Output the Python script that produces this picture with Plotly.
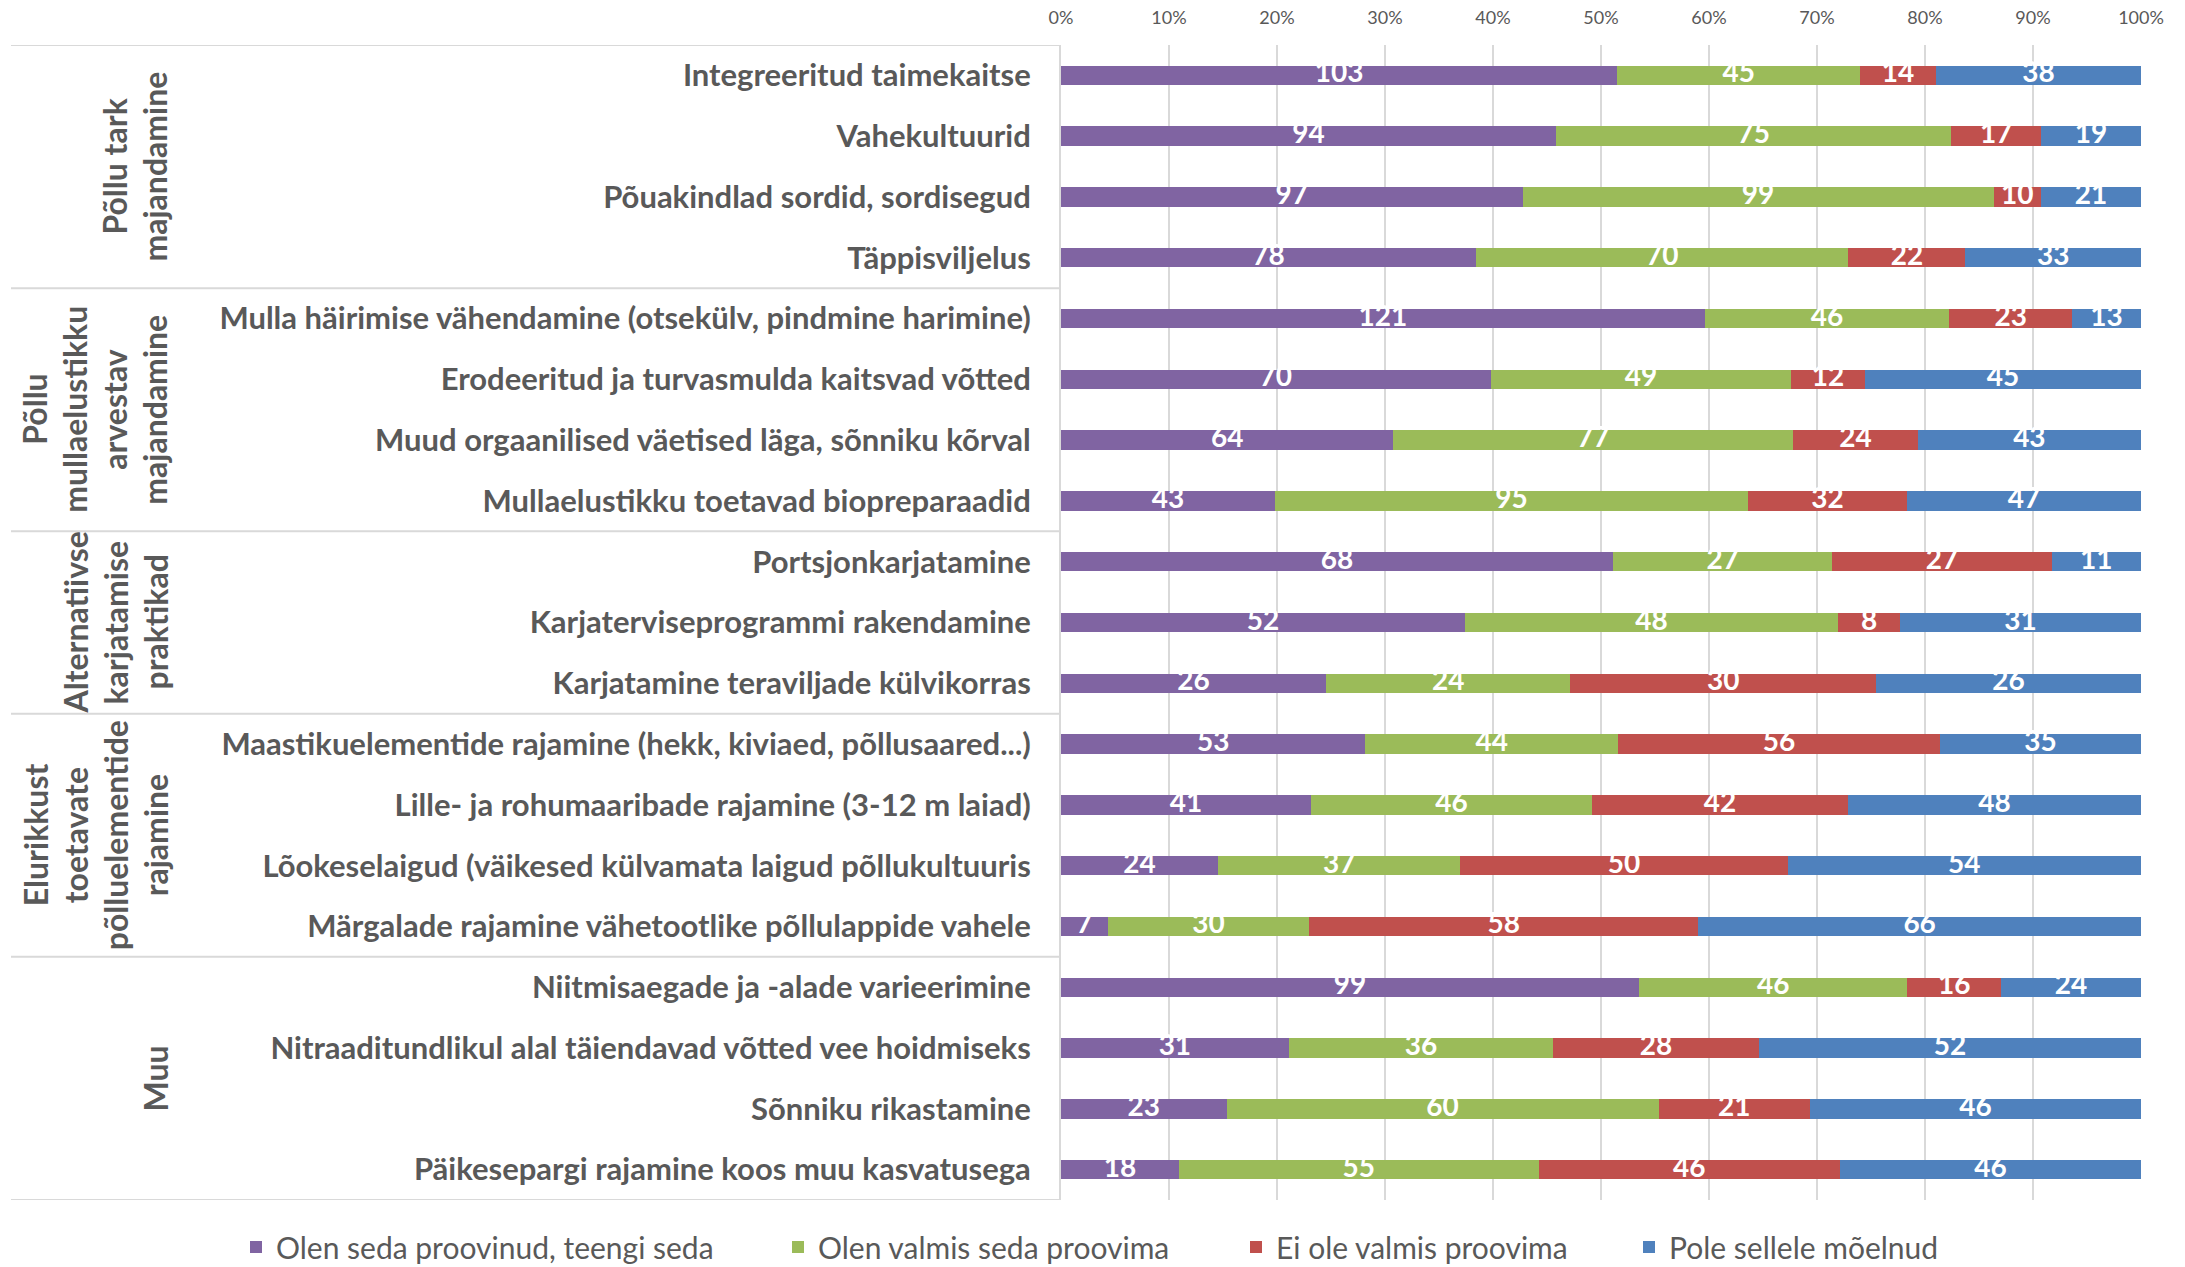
import plotly.graph_objects as go
import numpy as np

categories = [
    "Integreeritud taimekaitse",
    "Vahekultuurid",
    "Põuakindlad sordid, sordisegud",
    "Täppisviljelus",
    "Mulla häirimise vähendamine (otsekülv, pindmine harimine)",
    "Erodeeritud ja turvasmulda kaitsvad võtted",
    "Muud orgaanilised väetised läga, sõnniku kõrval",
    "Mullaelustikku toetavad biopreparaadid",
    "Portsjonkarjatamine",
    "Karjaterviseprogrammi rakendamine",
    "Karjatamine teraviljade külvikorras",
    "Maastikuelementide rajamine (hekk, kiviaed, põllusaared...)",
    "Lille- ja rohumaaribade rajamine (3-12 m laiad)",
    "Lõokeselaigud (väikesed külvamata laigud põllukultuuris",
    "Märgalade rajamine vähetootlike põllulappide vahele",
    "Niitmisaegade ja -alade varieerimine",
    "Nitraaditundlikul alal täiendavad võtted vee hoidmiseks",
    "Sõnniku rikastamine",
    "Päikesepargi rajamine koos muu kasvatusega",
]

groups = [
    ["Põllu tark", "majandamine"],
    ["Põllu", "mullaelustikku", "arvestav", "majandamine"],
    ["Alternatiivse", "karjatamise", "praktikad"],
    ["Elurikkust", "toetavate", "põlluelementide", "rajamine"],
    ["Muu"],
]
group_sizes = [4, 4, 3, 4, 4]

series_names = [
    "Olen seda proovinud, teengi seda",
    "Olen valmis seda proovima",
    "Ei ole valmis proovima",
    "Pole sellele mõelnud",
]
tried = [103, 94, 97, 78, 121, 70, 64, 43, 68, 52, 26, 53, 41, 24, 7, 99, 31, 23, 18]
ready = [45, 75, 99, 70, 46, 49, 77, 95, 27, 48, 24, 44, 46, 37, 30, 46, 36, 60, 55]
not_ready = [14, 17, 10, 22, 23, 12, 24, 32, 27, 8, 30, 56, 42, 50, 58, 16, 28, 21, 46]
not_thought = [38, 19, 21, 33, 13, 45, 43, 47, 11, 31, 26, 35, 48, 54, 66, 24, 52, 46, 46]

colors = ["#8064A2", "#9BBB59", "#C0504D", "#4F81BD"]
series = [tried, ready, not_ready, not_thought]

W, H = 2185, 1267
ML, MR, MT, MB = 1061, 44, 45, 67
plot_w = W - ML - MR

FONT = "Lato"
GRAY = "#595959"

# legend text start positions (px) for each series
legend_text_x = [276, 818, 1276, 1669]
legend_keys = ["legend", "legend2", "legend3", "legend4"]

fig = go.Figure()
for name, vals, col, lk in zip(series_names, series, colors, legend_keys):
    fig.add_trace(go.Bar(
        y=categories, x=vals, name=name, orientation="h",
        marker=dict(color=col, line=dict(width=0)),
        legend=lk,
    ))

# data labels at segment centers, computed from data
arr = np.array(series, dtype=float)
tot = arr.sum(axis=0)
pct = arr / tot * 100
cum = np.cumsum(pct, axis=0) - pct
for i in range(len(series)):
    fig.add_trace(go.Scatter(
        y=categories, x=cum[i] + pct[i] / 2, mode="text",
        text=[str(v) for v in series[i]],
        textfont=dict(family=FONT, size=28, color="white", weight="bold"),
        showlegend=False, hoverinfo="skip",
    ))

# group separator lines
bounds = np.concatenate([[0], np.cumsum(group_sizes)]) - 0.5
x_left = (11 - ML) / plot_w
for b in bounds:
    fig.add_shape(type="line", xref="paper", yref="y", x0=x_left, x1=0, y0=b, y1=b,
                  line=dict(color="#d9d9d9", width=2), layer="below")

# group labels: one rotated annotation per line, last line at fixed right position
LAST_X, LINE_SP = 155, 40
for lines, lo, hi in zip(groups, bounds[:-1], bounds[1:]):
    n = len(lines)
    for k, ln in enumerate(lines):
        px = LAST_X - LINE_SP * (n - 1 - k)
        fig.add_annotation(
            xref="paper", yref="y", x=(px - ML) / plot_w, y=(lo + hi) / 2, text=ln,
            textangle=-90, xanchor="center", yanchor="middle", showarrow=False,
            font=dict(family=FONT, size=32, color=GRAY, weight="bold"),
        )

layout_legends = {}
for lk, tx in zip(legend_keys, legend_text_x):
    layout_legends[lk] = dict(
        orientation="h", xref="container", yref="container",
        x=(tx - 40) / W, xanchor="left", y=1 - 1247 / H, yanchor="middle",
        font=dict(family=FONT, size=30, color=GRAY),
        bgcolor="rgba(0,0,0,0)",
    )

fig.update_layout(
    width=W, height=H,
    barmode="stack", barnorm="percent", bargap=0.68,
    plot_bgcolor="white", paper_bgcolor="white",
    margin=dict(l=ML, r=MR, t=MT, b=MB, autoexpand=False),
    font=dict(family=FONT, color=GRAY),
    xaxis=dict(
        side="top", range=[0, 100], dtick=10, ticksuffix="%",
        showgrid=True, gridcolor="#d9d9d9", gridwidth=1.5,
        zeroline=False, showline=False, ticks="",
        tickfont=dict(family=FONT, size=18, color=GRAY),
        ticklabelstandoff=16, automargin=False, fixedrange=True,
    ),
    yaxis=dict(
        range=[len(categories) - 0.5, -0.5], showgrid=False, ticks="",
        showline=True, linecolor="#d9d9d9", linewidth=2,
        tickfont=dict(family=FONT, size=31, color=GRAY, weight="bold"),
        ticklabelstandoff=22, automargin=False, fixedrange=True,
    ),
    showlegend=True,
    **layout_legends,
)

fig.write_html("out.html", config={"displayModeBar": False},
               post_script="document.body.style.margin='0';")
